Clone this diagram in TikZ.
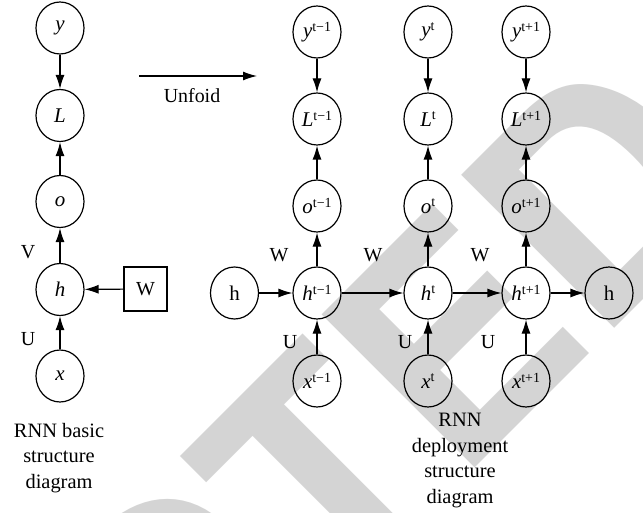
\documentclass[tikz,border=0pt]{standalone}
\usepackage{fontspec}
\setmainfont{Liberation Serif}
\newfontfamily\wmfont{TeX Gyre Heros}
\usetikzlibrary{arrows.meta,shapes.geometric}
\newcommand\zlab[1]{\makebox[0pt]{#1}}
\newcommand\suplab[2]{\makebox[0pt]{{\itshape #1}\raisebox{6.5bp}{\fontsize{14}{14}\selectfont #2}}}
\begin{document}
\begin{tikzpicture}[x=1bp,y=-1bp,
  nd/.style={ellipse,draw,line width=1.2bp,minimum width=48bp,minimum height=52bp,inner sep=0pt,font=\fontsize{21}{24}\selectfont},
  arr/.style={-{Latex[length=14bp,width=9bp]},line width=1.2bp},
  lbl/.style={font=\fontsize{20}{24}\selectfont,inner sep=0pt},
  captext/.style={align=center,font=\fontsize{20.5}{25.5}\selectfont,inner sep=0pt}]
\useasboundingbox (0,0) rectangle (643,513);
\fill[white] (0,0) rectangle (643,513);
% watermark
\begin{scope}
\clip (0,0) rectangle (643,513);
\node[rotate=45,anchor=base west,inner sep=0pt,text=black!17,font=\wmfont\bfseries\fontsize{298}{298}\selectfont] (wm) at (-537,1480) {RETRACTED};
\end{scope}
% left basic structure
\node[nd] (y) at (60,28) {\zlab{\itshape y}};
\node[nd] (L) at (60,115.5) {\zlab{\itshape L}};
\node[nd] (o) at (60,201.5) {\zlab{\itshape o}};
\node[nd] (h) at (60,289.5) {\zlab{\itshape h}};
\node[nd] (x) at (60,376) {\zlab{\itshape x}};
\node[draw,line width=1.2bp,minimum width=43bp,minimum height=44bp,inner sep=0pt,font=\fontsize{20}{24}\selectfont] (W) at (145.5,289) {W};
\draw[arr] (y) -- (L);
\draw[arr] (o) -- (L);
\draw[arr] (h) -- (o);
\draw[arr] (x) -- (h);
\draw[arr] (W) -- (h);
\node[lbl] (lv) at (28,252) {V};
\node[lbl] (lu) at (28,339) {U};
\node[captext] (cap1) at (59,458) {RNN basic\\structure\\diagram};
% unfold
\coordinate (u1) at (139,76);
\coordinate (u2) at (257,76);
\draw[arr] (u1) -- (u2);
\node[lbl] (unf) at (192,96) {Unfoid};
% right unfolded
\node[nd] (ya) at (317,32) {\suplab{y}{t−1}};
\node[nd] (yb) at (428,32) {\suplab{y}{t}};
\node[nd] (yc) at (526,32) {\suplab{y}{t+1}};
\node[nd] (La) at (317,119) {\suplab{L}{t−1}};
\node[nd] (Lb) at (428,119) {\suplab{L}{t}};
\node[nd] (Lc) at (526,119) {\suplab{L}{t+1}};
\node[nd] (oa) at (317,206) {\suplab{o}{t−1}};
\node[nd] (ob) at (428,206) {\suplab{o}{t}};
\node[nd] (oc) at (526,206) {\suplab{o}{t+1}};
\node[nd] (ha) at (317,293) {\suplab{h}{t−1}};
\node[nd] (hb) at (428,293) {\suplab{h}{t}};
\node[nd] (hc) at (526,293) {\suplab{h}{t+1}};
\node[nd] (xa) at (317,381) {\suplab{x}{t−1}};
\node[nd] (xb) at (428,381) {\suplab{x}{t}};
\node[nd] (xc) at (526,381) {\suplab{x}{t+1}};
\node[nd] (h0) at (234.5,293) {\zlab{h}};
\node[nd] (hE) at (609,293) {\zlab{h}};
\foreach \c in {a,b,c}{
  \draw[arr] (y\c) -- (L\c);
  \draw[arr] (o\c) -- (L\c);
  \draw[arr] (h\c) -- (o\c);
  \draw[arr] (x\c) -- (h\c);
}
\draw[arr] (h0) -- (ha);
\draw[arr] (ha) -- (hb);
\draw[arr] (hb) -- (hc);
\draw[arr] (hc) -- (hE);
\node[lbl] (w1) at (279,255) {W};
\node[lbl] (w2) at (373,255) {W};
\node[lbl] (w3) at (480,255) {W};
\node[lbl] (ua) at (290,342) {U};
\node[lbl] (ub) at (405,342) {U};
\node[lbl] (uc) at (488,342) {U};
\node[captext] (cap2) at (460,460.5) {RNN\\deployment\\structure\\diagram};
\end{tikzpicture}
\end{document}
